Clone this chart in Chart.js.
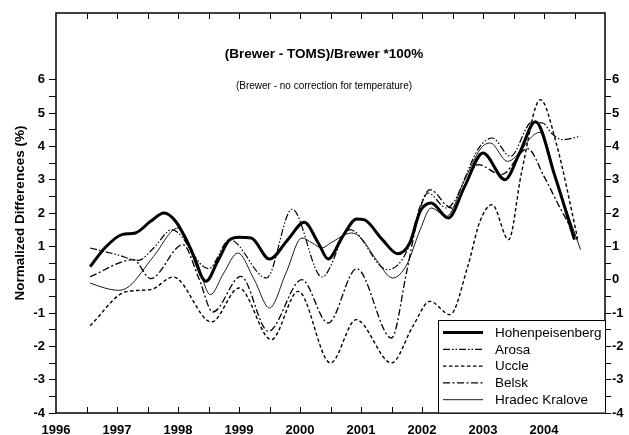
<!DOCTYPE html>
<html><head><meta charset="utf-8">
<script src="https://cdn.jsdelivr.net/npm/chart.js@4.4.1/dist/chart.umd.min.js"></script>
<style>html,body{margin:0;padding:0;background:#fff;} #wrap{width:629px;height:435px;position:relative;}</style>
</head><body><div id="wrap"><canvas id="c" width="629" height="435"></canvas></div>
<script>
const FONT = '"Liberation Sans", Arial, Helvetica, sans-serif';
const titleText = '(Brewer - TOMS)/Brewer *100%';
const subtitleText = '(Brewer - no correction for temperature)';
const yAxisTitle = 'Normalized Differences (%)';
const seriesNames = ['Hohenpeisenberg', 'Arosa', 'Uccle', 'Belsk', 'Hradec Kralove'];
const xTickLabels = [1996, 1997, 1998, 1999, 2000, 2001, 2002, 2003, 2004];
const yTickLabels = [-4, -3, -2, -1, 0, 1, 2, 3, 4, 5, 6];

const hohYears  = [1996.56, 1996.8, 1997.08, 1997.3, 1997.55, 1997.77, 1997.97, 1998.2, 1998.46, 1998.65, 1998.85, 1999.0, 1999.2, 1999.5, 1999.8, 2000.07, 2000.3, 2000.46, 2000.7, 2000.93, 2001.05, 2001.35, 2001.6, 2001.8, 2001.97, 2002.15, 2002.43, 2002.7, 2003.0, 2003.36, 2003.6, 2003.86, 2004.18, 2004.5];
const hohValues = [0.39, 0.95, 1.35, 1.4, 1.75, 2.0, 1.73, 0.95, -0.05, 0.55, 1.2, 1.27, 1.25, 0.62, 1.2, 1.72, 1.1, 0.62, 1.3, 1.82, 1.8, 1.2, 0.78, 1.1, 2.05, 2.3, 1.85, 2.8, 3.8, 3.0, 3.8, 4.74, 3.1, 1.2];

const aroYears  = [1996.56, 1997.0, 1997.35, 1997.6, 1997.9, 1998.5, 1998.85, 1999.45, 1999.87, 2000.36, 2000.82, 2001.43, 2001.75, 2001.97, 2002.1, 2002.4, 2002.95, 2003.15, 2003.45, 2003.8, 2003.98, 2004.12, 2004.3, 2004.6];
const aroValues = [0.95, 0.75, 0.58, 0.95, 1.5, 0.33, 1.2, 0.05, 2.12, 0.08, 1.5, 0.3, 0.85, 2.2, 2.6, 2.15, 4.0, 4.25, 3.7, 4.72, 4.7, 4.4, 4.2, 4.3];

const uccYears  = [1996.56, 1997.15, 1997.55, 1997.92, 1998.55, 1999.0, 1999.53, 1999.97, 2000.5, 2000.92, 2001.5, 2001.85, 2002.13, 2002.46, 2002.75, 2002.95, 2003.15, 2003.42, 2003.63, 2003.94, 2004.2, 2004.55];
const uccValues = [-1.38, -0.36, -0.3, 0.08, -1.27, -0.25, -1.8, -0.35, -2.5, -1.2, -2.5, -1.4, -0.65, -1.05, 0.4, 1.75, 2.25, 1.2, 3.2, 5.4, 4.1, 1.25];

const belYears  = [1996.56, 1997.27, 1997.55, 1998.08, 1998.35, 1998.57, 1999.03, 1999.48, 2000.03, 2000.46, 2000.93, 2001.5, 2001.75, 2001.95, 2002.13, 2002.48, 2002.92, 2003.3, 2003.73, 2004.0, 2004.25, 2004.55];
const belValues = [0.09, 0.6, 0.03, 1.05, 0.0, -0.97, 0.1, -1.55, 0.0, -1.3, 0.33, -1.75, 0.25, 2.0, 2.7, 2.15, 3.45, 3.15, 3.93, 3.1, 2.2, 1.2];

const hraYears  = [1996.56, 1996.8, 1997.03, 1997.2, 1997.6, 1998.0, 1998.3, 1998.53, 1998.75, 1998.98, 1999.25, 1999.5, 1999.77, 2000.03, 2000.2, 2000.36, 2000.5, 2000.85, 2001.0, 2001.25, 2001.52, 2001.75, 2001.97, 2002.15, 2002.4, 2002.7, 2002.97, 2003.12, 2003.4, 2003.93, 2004.25, 2004.6];
const hraValues = [-0.1, -0.25, -0.32, -0.2, 0.7, 1.55, 0.6, -0.45, 0.2, 0.8, 0.0, -0.85, 0.2, 1.25, 1.1, 0.95, 1.1, 1.4, 1.25, 0.6, 0.05, 0.45, 1.5, 2.15, 1.9, 3.0, 3.95, 4.1, 3.55, 4.42, 2.7, 0.9];

function pts(xs, ys) { return xs.map((x, i) => ({ x: x, y: ys[i] })); }

const styles = [
  { borderWidth: 3, borderDash: [] },
  { borderWidth: 1.2, borderDash: [7, 2, 1.5, 2, 1.5, 2] },
  { borderWidth: 1.4, borderDash: [3.5, 2.5] },
  { borderWidth: 1.3, borderDash: [7, 2.5, 2, 2.5] },
  { borderWidth: 0.9, borderDash: [] }
];
const seriesData = [pts(hohYears, hohValues), pts(aroYears, aroValues), pts(uccYears, uccValues), pts(belYears, belValues), pts(hraYears, hraValues)];

const datasets = seriesNames.map((name, i) => ({
  label: name,
  data: seriesData[i],
  borderColor: '#000',
  backgroundColor: '#000',
  borderWidth: styles[i].borderWidth,
  borderDash: styles[i].borderDash,
  pointRadius: 0,
  fill: false,
  tension: 0.4,
  cubicInterpolationMode: 'monotone',
  borderCapStyle: 'butt',
  borderJoinStyle: 'round'
}));

function yTicks(scale) {
  const arr = [];
  for (let v = yTickLabels[0]; v <= yTickLabels[yTickLabels.length - 1] + 1e-9; v += 0.5) arr.push({ value: v });
  scale.ticks = arr;
}

const decor = {
  id: 'decor',
  afterDatasetsDraw(chart) {
    const ctx = chart.ctx, a = chart.chartArea, xs = chart.scales.x;
    ctx.save();
    ctx.strokeStyle = '#000'; ctx.lineWidth = 1;
    ctx.beginPath();
    for (let v = xs.min + 0.5; v < xs.max - 1e-9; v += 0.5) {
      const px = Math.round(xs.getPixelForValue(v)) + 0.5;
      ctx.moveTo(px, a.bottom); ctx.lineTo(px, a.bottom - 6);
      ctx.moveTo(px, a.top); ctx.lineTo(px, a.top + 6);
    }
    ctx.stroke();
    ctx.lineWidth = 1.5;
    ctx.strokeRect(a.left, a.top, a.right - a.left, a.bottom - a.top);
    ctx.fillStyle = '#000';
    ctx.textAlign = 'center'; ctx.textBaseline = 'middle';
    ctx.font = 'bold 13.5px ' + FONT;
    ctx.fillText(titleText, 324, 54);
    ctx.font = '10px ' + FONT;
    ctx.fillText(subtitleText, 324, 86);
    const bx = 438, by = 320, bw = a.right - bx, bh = a.bottom - by;
    ctx.fillStyle = '#fff';
    ctx.fillRect(bx, by, bw, bh);
    ctx.lineWidth = 1;
    ctx.strokeRect(bx + 0.5, by + 0.5, bw, bh - 0.5);
    ctx.font = '13.5px ' + FONT;
    ctx.textAlign = 'left';
    chart.data.datasets.forEach((ds, i) => {
      const yy = by + 12.5 + i * 16.8;
      ctx.beginPath();
      ctx.setLineDash(ds.borderDash || []);
      ctx.lineWidth = ds.borderWidth;
      ctx.strokeStyle = '#000';
      ctx.moveTo(443, yy); ctx.lineTo(483, yy);
      ctx.stroke();
      ctx.setLineDash([]);
      ctx.fillStyle = '#000';
      ctx.fillText(ds.label, 495, yy + 0.5);
    });
    ctx.restore();
  }
};

new Chart(document.getElementById('c'), {
  type: 'line',
  data: { datasets: datasets },
  plugins: [decor],
  options: {
    responsive: false,
    animation: false,
    layout: { padding: { top: 13, left: 0, right: 0, bottom: 0 } },
    plugins: { legend: { display: false }, tooltip: { enabled: false } },
    scales: {
      x: {
        type: 'linear', position: 'bottom', min: 1996, max: 2005,
        afterBuildTicks: (s) => { s.ticks = xTickLabels.map(v => ({ value: v })); },
        afterFit: (s) => { s.height = 22; },
        ticks: { font: { family: FONT, size: 13, weight: 'bold' }, color: '#000', padding: 2, maxRotation: 0, autoSkip: false, callback: (v) => String(v) },
        grid: { display: false },
        border: { display: false }
      },
      y: {
        type: 'linear', position: 'left', min: -4, max: 8,
        afterBuildTicks: yTicks,
        afterFit: (s) => { s.width = 56; },
        ticks: { font: { family: FONT, size: 13, weight: 'bold' }, color: '#000', padding: 4, autoSkip: false,
          callback: (v) => (yTickLabels.includes(v) ? String(v) : '') },
        grid: { drawOnChartArea: false, drawTicks: true, tickLength: 7, color: '#000', lineWidth: 1 },
        border: { display: false },
        title: { display: true, text: yAxisTitle, color: '#000', font: { family: FONT, size: 13.5, weight: 'bold' }, padding: { top: 12, bottom: 0 } }
      },
      y2: {
        type: 'linear', position: 'right', min: -4, max: 8,
        afterBuildTicks: yTicks,
        afterFit: (s) => { s.width = 24; },
        ticks: { font: { family: FONT, size: 13, weight: 'bold' }, color: '#000', padding: 1, autoSkip: false,
          callback: (v) => (yTickLabels.includes(v) ? String(v) : '') },
        grid: { drawOnChartArea: false, drawTicks: true, tickLength: 6, color: '#000', lineWidth: 1 },
        border: { display: false }
      }
    }
  }
});
</script>
</body></html>
